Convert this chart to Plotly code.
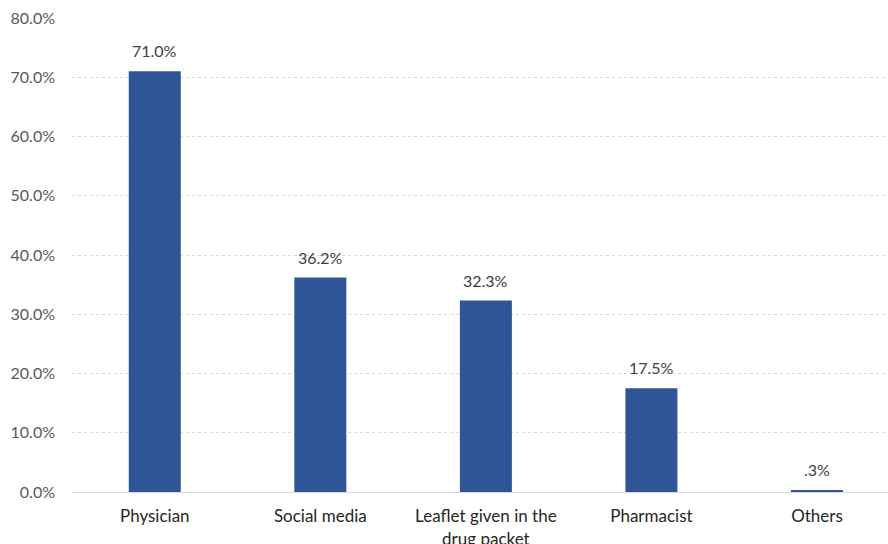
import plotly.graph_objects as go

categories = ["Physician", "Social media", "Leaflet given in the<br>drug packet", "Pharmacist", "Others"]
values = [71.0, 36.2, 32.3, 17.5, 0.3]
y_ticks = [0, 10, 20, 30, 40, 50, 60, 70, 80]
y_tick_labels = [f"{t:.1f}%" for t in y_ticks]


def fmt(v):
    s = f"{v:.1f}%"
    if s.startswith("0."):
        s = s[1:]
    return s


labels = [fmt(v) for v in values]

fig = go.Figure()
fig.add_trace(go.Bar(
    x=categories, y=values, width=0.314,
    marker=dict(color="#2F5597", line=dict(width=0)),
    hoverinfo="skip",
))
for c, v, l in zip(categories, values, labels):
    fig.add_annotation(x=c, y=v, text=l, showarrow=False, yanchor="bottom",
                       yshift=9, font=dict(family="Lato", size=16, color="#404040"))

fig.update_layout(
    width=888, height=544,
    margin=dict(l=72, r=0, t=18, b=52),
    paper_bgcolor="white", plot_bgcolor="white",
    showlegend=False,
    font=dict(family="Lato", size=16, color="#595959"),
    xaxis=dict(
        range=[-0.5, 4.429], showgrid=False, showline=True, linecolor="#d9d9d9",
        linewidth=1, ticks="", tickfont=dict(color="#262626", size=17),
        ticklabelstandoff=9, automargin=False, fixedrange=True,
    ),
    yaxis=dict(
        range=[0, 80], tickvals=y_ticks, ticktext=y_tick_labels,
        showgrid=True, gridcolor="#d9d9d9", griddash="dot", gridwidth=1,
        zeroline=False, ticks="", ticklabelstandoff=16, automargin=False,
        tickfont=dict(color="#595959", size=16), fixedrange=True,
    ),
)
fig.write_html("out.html")
